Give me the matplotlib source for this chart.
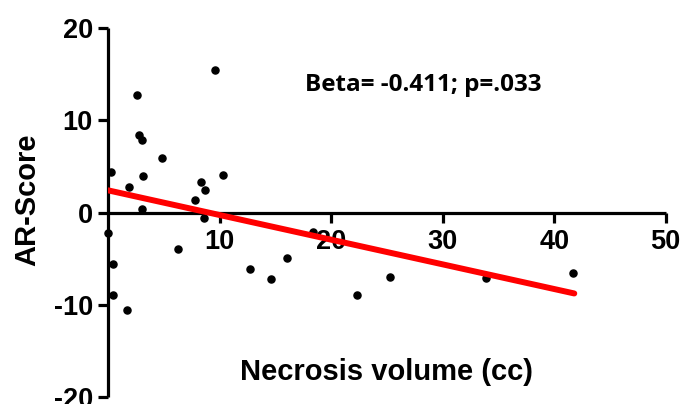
import matplotlib
matplotlib.use('Agg')
import matplotlib.pyplot as plt

# necrosis volume (cc) and AR-score
necrosis = [9.6, 2.6, 2.8, 3.0, 4.8, 0.3, 3.1, 10.3, 1.9, 8.3, 8.7, 7.8,
            3.0, 8.6, 0.0, 6.3, 0.45, 0.4, 1.7, 12.7, 14.6, 16.0,
            18.4, 22.3, 25.3, 33.9, 41.7]
ar_score = [15.4, 12.7, 8.4, 7.8, 5.9, 4.4, 4.0, 4.1, 2.75, 3.3, 2.4, 1.4,
            0.35, -0.6, -2.2, -3.95, -5.6, -8.9, -10.6, -6.1, -7.2, -4.9,
            -2.1, -8.9, -7.0, -7.1, -6.5]

# regression line ends
fit_x = [0.0, 41.8]
fit_y = [2.4, -8.77]

xticks = [10, 20, 30, 40, 50]
yticks = [-20, -10, 0, 10, 20]
note = 'Beta= -0.411; p=.033'

plt.rcParams['font.family'] = ['Liberation Sans', 'DejaVu Sans']
plt.rcParams['font.weight'] = 'bold'
plt.rcParams['axes.unicode_minus'] = False

fig = plt.figure(figsize=(6.8, 4.04), dpi=100)
ax = fig.add_axes([0.159, 0.017, 0.82, 0.914])

ax.scatter(necrosis, ar_score, s=26, color='black', zorder=3, clip_on=False)
ax.plot(fit_x, fit_y, color='#ff0000', lw=4.3, solid_capstyle='round', zorder=4)

ax.set_xlim(0, 50)
ax.set_ylim(-20, 20)
ax.spines['top'].set_visible(False)
ax.spines['right'].set_visible(False)
ax.spines['bottom'].set_position(('data', 0))
for s in ['left', 'bottom']:
    ax.spines[s].set_linewidth(2.3)
    ax.spines[s].set_capstyle('butt')
ax.set_xticks(xticks, labels=[str(v) for v in xticks], fontweight='bold', fontsize=19.5)
ax.set_yticks(yticks, labels=[str(v) for v in yticks], fontweight='bold', fontsize=19.5)
ax.tick_params(width=2.3, length=7)
ax.tick_params(axis='y', pad=4)
ax.tick_params(axis='x', pad=5)

ax.text(17.65, 13.8, note, fontsize=17.5, fontweight='bold', va='center',
        family=['Open Sans', 'DejaVu Sans'])
ax.text(0.5, 0.068, 'Necrosis volume (cc)', transform=ax.transAxes,
        ha='center', va='center', fontsize=21, fontweight='bold')
fig.text(0.04, 0.505, 'AR-Score', rotation=90, ha='center', va='center',
         fontsize=21, fontweight='bold')

plt.savefig('out.png', dpi=100)
